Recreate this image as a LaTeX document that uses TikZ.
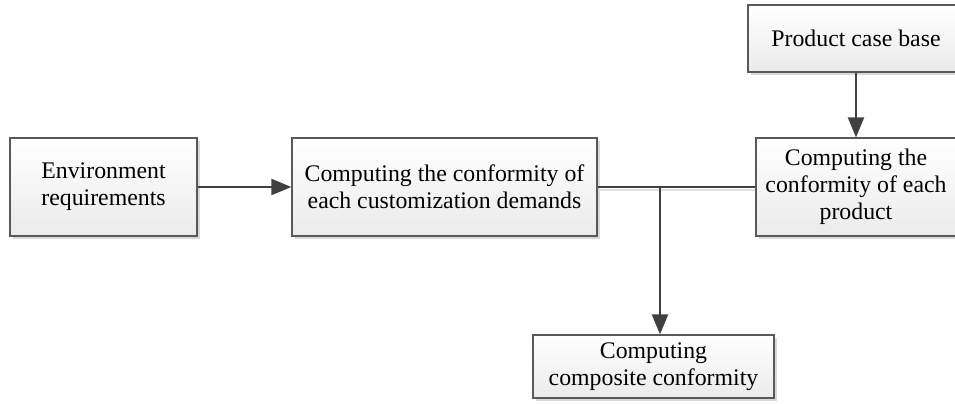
\documentclass[tikz,border=0pt]{standalone}
\usepackage{fontspec}
\setmainfont{Liberation Serif}
\usetikzlibrary{arrows.meta,shadows}

\tikzset{
  box/.style={draw=black!65, line width=0.6pt, top color=white, bottom color=black!8,
    drop shadow={shadow xshift=1.5pt, shadow yshift=-1.5pt, fill=black!15, opacity=1},
    align=center, inner sep=0pt, font=\fontsize{11.9}{13.6}\selectfont},
  flow/.style={draw=black!75, line width=1.1pt, -{Triangle[length=10pt,width=8pt]}},
  link/.style={draw=black!75, line width=0.6pt}
}

\begin{document}
\begin{tikzpicture}[x=0.5pt, y=-0.5pt]
  \useasboundingbox (0,0) rectangle (955,403);

  % Boxes
  \node[box, minimum width=93.5pt, minimum height=49pt] (env) at (103.5,187) {Environment\\requirements};
  \node[box, minimum width=152.5pt, minimum height=49pt] (custom) at (444.5,187) {Computing the conformity of\\each customization demands};
  \node[box, minimum width=108pt, minimum height=33.5pt] (casebase) at (856,38.5) {Product case base};
  \node[box, minimum width=100pt, minimum height=49pt] (product) at (856,187) {Computing the\\conformity of each\\product};
  \node[box, minimum width=120.5pt, minimum height=31.5pt] (composite) at (653.5,366.5) {Computing\\composite conformity};

  % Connectors
  \coordinate (join) at (660,187);
  \draw[black!12, line width=1pt] ([yshift=-1.5pt]custom.east) -- ([yshift=-1.5pt]product.west);
  \draw[link] (custom.east) -- (product.west);
  \draw[flow] (env) -- (custom);
  \draw[flow] (casebase) -- (product);
  \draw[flow] (join) -- (join |- composite.north);
\end{tikzpicture}
\end{document}
